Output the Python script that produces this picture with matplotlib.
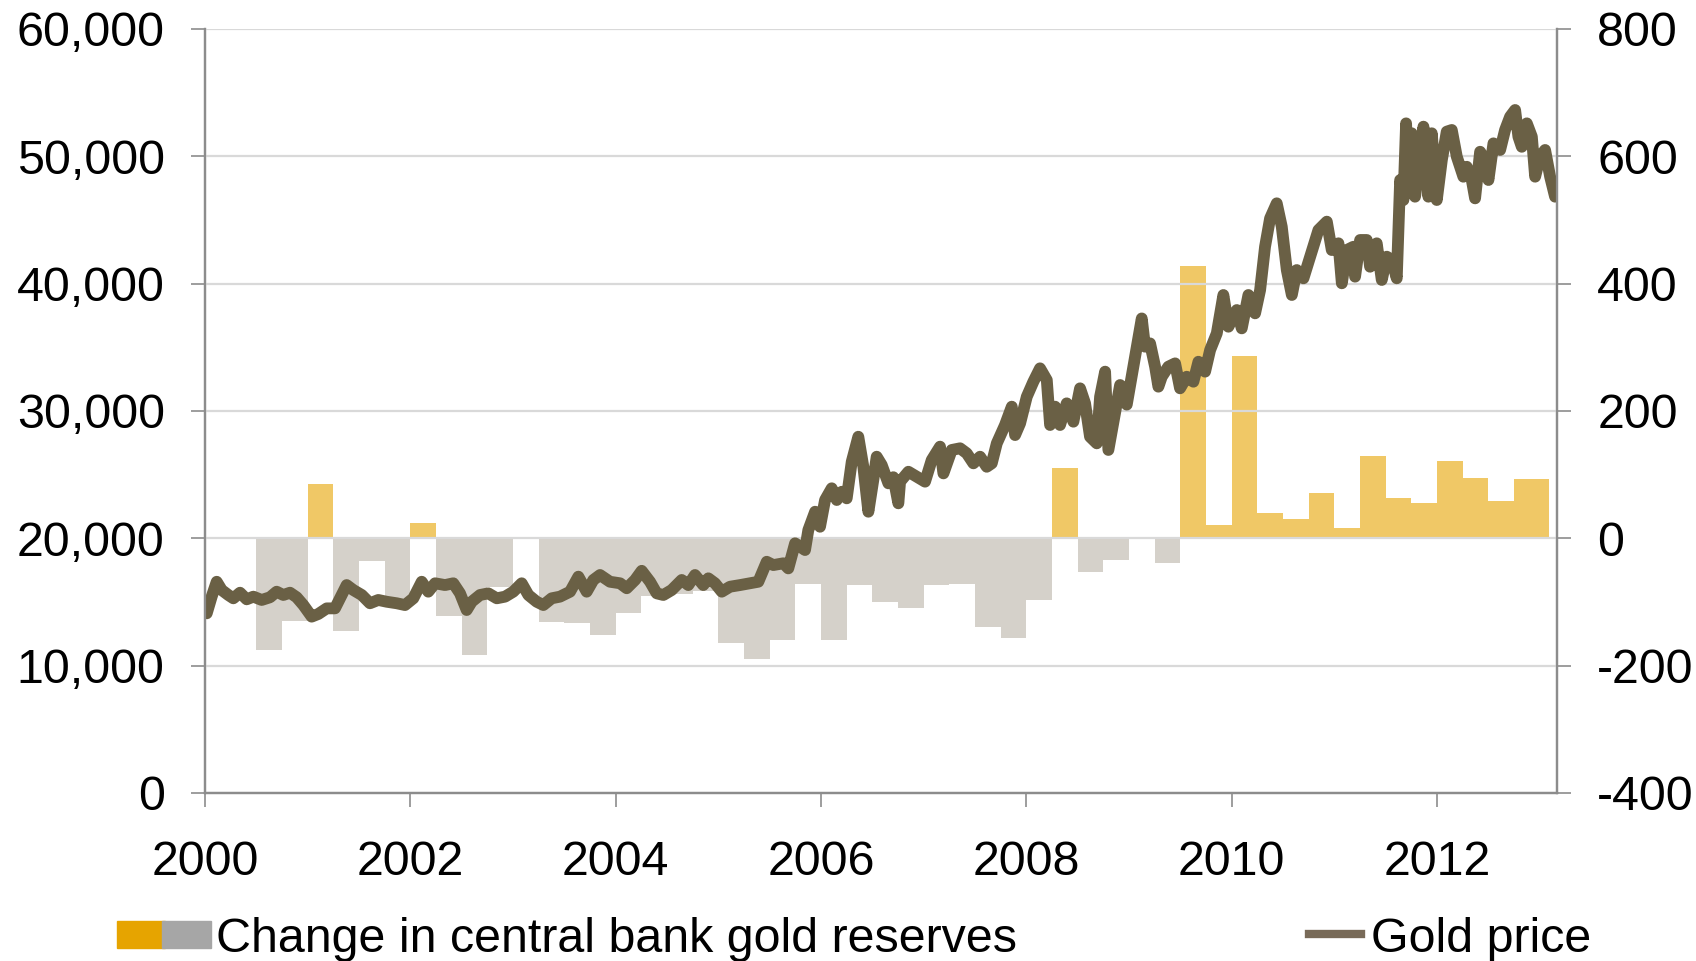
import numpy as np
import matplotlib
matplotlib.use("Agg")
import matplotlib.pyplot as plt
from matplotlib.patches import Rectangle
from matplotlib.lines import Line2D

plt.rcParams['font.family'] = ['Liberation Sans', 'DejaVu Sans']
plt.rcParams['axes.unicode_minus'] = False

# Gold price (left axis): decimal year, price
price_dates = [
    2000.017, 2000.065, 2000.114, 2000.163, 2000.227, 2000.276, 2000.341, 2000.406, 2000.471, 2000.552,
    2000.633, 2000.698, 2000.763, 2000.828, 2000.893, 2000.958, 2001.039, 2001.104, 2001.186, 2001.266,
    2001.315, 2001.380, 2001.445, 2001.527, 2001.607, 2001.688, 2001.770, 2001.868, 2001.948, 2002.029,
    2002.111, 2002.175, 2002.241, 2002.338, 2002.419, 2002.484, 2002.549, 2002.598, 2002.679, 2002.760,
    2002.842, 2002.923, 2003.003, 2003.085, 2003.150, 2003.231, 2003.296, 2003.377, 2003.458, 2003.556,
    2003.637, 2003.718, 2003.783, 2003.848, 2003.945, 2004.043, 2004.108, 2004.189, 2004.254, 2004.335,
    2004.400, 2004.465, 2004.546, 2004.644, 2004.708, 2004.773, 2004.854, 2004.903, 2004.968, 2005.034,
    2005.114, 2005.212, 2005.309, 2005.390, 2005.472, 2005.536, 2005.634, 2005.682, 2005.748, 2005.845,
    2005.877, 2005.943, 2005.991, 2006.040, 2006.105, 2006.154, 2006.203, 2006.251, 2006.300, 2006.364,
    2006.413, 2006.462, 2006.510, 2006.543, 2006.592, 2006.657, 2006.705, 2006.754, 2006.771, 2006.852,
    2006.933, 2007.014, 2007.079, 2007.160, 2007.193, 2007.274, 2007.355, 2007.420, 2007.485, 2007.550,
    2007.615, 2007.664, 2007.713, 2007.793, 2007.859, 2007.891, 2007.940, 2008.005, 2008.069, 2008.134,
    2008.200, 2008.232, 2008.281, 2008.329, 2008.394, 2008.459, 2008.524, 2008.573, 2008.621, 2008.687,
    2008.719, 2008.768, 2008.800, 2008.846, 2008.914, 2008.979, 2009.060, 2009.125, 2009.157, 2009.206,
    2009.255, 2009.287, 2009.320, 2009.384, 2009.450, 2009.498, 2009.563, 2009.628, 2009.677, 2009.742,
    2009.791, 2009.856, 2009.920, 2009.969, 2010.051, 2010.099, 2010.164, 2010.229, 2010.278, 2010.326,
    2010.375, 2010.440, 2010.489, 2010.538, 2010.587, 2010.635, 2010.700, 2010.765, 2010.846, 2010.928,
    2010.976, 2011.041, 2011.074, 2011.122, 2011.187, 2011.203, 2011.252, 2011.317, 2011.349, 2011.414,
    2011.463, 2011.512, 2011.561, 2011.609, 2011.642, 2011.674, 2011.700, 2011.722, 2011.755, 2011.787,
    2011.820, 2011.869, 2011.917, 2011.950, 2011.999, 2012.048, 2012.096, 2012.145, 2012.194, 2012.258,
    2012.291, 2012.340, 2012.372, 2012.421, 2012.470, 2012.502, 2012.551, 2012.616, 2012.664, 2012.713,
    2012.762, 2012.794, 2012.827, 2012.876, 2012.925, 2012.957, 2013.005, 2013.054, 2013.103, 2013.151,
]
gold_price = [
    14110, 15420, 16590, 15940, 15550, 15290, 15730, 15210, 15420, 15160,
    15370, 15810, 15550, 15730, 15370, 14760, 13850, 14060, 14500, 14500,
    15290, 16330, 15940, 15550, 14900, 15160, 15020, 14900, 14760, 15290,
    16590, 15810, 16470, 16330, 16470, 15680, 14370, 15020, 15550, 15680,
    15290, 15420, 15810, 16470, 15550, 15020, 14760, 15290, 15420, 15810,
    16990, 15810, 16730, 17120, 16590, 16470, 16080, 16730, 17450, 16590,
    15680, 15550, 15940, 16730, 16330, 17120, 16330, 16860, 16470, 15810,
    16200, 16330, 16470, 16590, 18160, 17900, 18040, 17640, 19610, 19080,
    20650, 22090, 20910, 23010, 23930, 23010, 23660, 23140, 26020, 27980,
    25620, 22090, 24580, 26410, 25760, 24320, 24800, 22750, 24450, 25230,
    24840, 24450, 26150, 27200, 25100, 26940, 27070, 26680, 25890, 26410,
    25620, 25890, 27460, 28900, 30340, 28110, 29030, 31120, 32300, 33350,
    32430, 28900, 30340, 28900, 30600, 29160, 31780, 30600, 27980, 27460,
    31120, 33090, 26940, 29000, 32040, 30500, 34260, 37270, 35050, 35310,
    33480, 31910, 32690, 33480, 33740, 31780, 32690, 32300, 33870, 33090,
    34790, 36100, 39110, 36620, 37930, 36490, 39110, 37670, 39500, 42900,
    45130, 46310, 44470, 41070, 39110, 41070, 40420, 42120, 44210, 44870,
    42640, 43170, 40030, 42640, 42900, 40550, 43430, 43430, 41330, 43170,
    40290, 42120, 41860, 40420, 48140, 46570, 52590, 47360, 51810, 46830,
    48660, 52330, 46830, 51810, 46570, 49700, 51940, 52070, 49970, 48400,
    49180, 48140, 46700, 50360, 49700, 48140, 51020, 50500, 52070, 53110,
    53640, 51540, 50750, 52590, 51540, 48400, 49970, 50500, 48400, 46830,
]

# Quarterly change in central bank gold reserves (right axis), from 2000 Q1
reserve_start = 2000.0
reserve_end = 2013.093
reserve_change = [
    0, 0, -176, -130, 86, -146, -36, -98, 24, -122,
    -184, -76, 0, -131, -133, -152, -117, -91, -88, -82,
    -164, -190, -160, -71, -159, -74, -100, -109, -74, -71,
    -139, -156, -97, 111, -53, -34, 0, -38, 428, 21,
    286, 40, 30, 71, 17, 129, 64, 55, 122, 95,
    59, 93,
]

year_ticks = [2000, 2002, 2004, 2006, 2008, 2010, 2012]

line_color = '#6A6045'
pos_color = '#F0C866'
neg_color = '#D5D1CA'
axis_grey = '#8C8C8C'
fs = 34.8

fig = plt.figure(figsize=(16.96, 9.61), dpi=100)
ax = fig.add_axes([205 / 1696, 1 - 793 / 961, (1557 - 205) / 1696, (793 - 29) / 961])
ax2 = ax.twinx()
ax.set_zorder(ax2.get_zorder() + 1)
ax.patch.set_visible(False)

# bars on right axis
q_start = reserve_start + 0.25 * np.arange(len(reserve_change))
widths = np.full(len(reserve_change), 0.25)
widths[-1] = reserve_end - q_start[-1]
vals = np.array(reserve_change, dtype=float)
colors = [pos_color if v > 0 else neg_color for v in vals]
ax2.bar(q_start, vals, width=widths, align='edge', color=colors, linewidth=0)
ax2.set_ylim(-400, 800)
ax2.set_yticks(range(-400, 801, 200))

# price line on left axis
ax.plot(price_dates, gold_price, color=line_color, lw=8.5,
        solid_joinstyle='round', solid_capstyle='round')
ax.set_ylim(0, 60000)
ax.set_yticks(range(0, 60001, 10000))
ax.set_yticklabels([f"{v:,}" for v in range(0, 60001, 10000)])
ax.set_xlim(2000, 2013.17)
ax.set_xticks(year_ticks)
ax.set_xticklabels([str(y) for y in year_ticks])
ax.grid(axis='y', color='#D9D9D9', lw=1.6)

for a in (ax, ax2):
    a.spines['top'].set_visible(False)
    for s in ('left', 'right', 'bottom'):
        a.spines[s].set_color(axis_grey)
        a.spines[s].set_linewidth(1.6)
    a.tick_params(colors=axis_grey, labelcolor='black', labelsize=fs,
                  length=10, width=1.2)
ax.tick_params(axis='y', pad=19)
ax2.tick_params(axis='y', pad=19)
ax.tick_params(axis='x', pad=24)

# legend drawn by hand along the bottom
W, H = 1696, 961
fig.patches.append(Rectangle((117 / W, 1 - 948 / H), 48 / W, 27 / H,
                             transform=fig.transFigure, color='#E6A400'))
fig.patches.append(Rectangle((162 / W, 1 - 948 / H), 49 / W, 27 / H,
                             transform=fig.transFigure, color='#A6A6A6'))
fig.text(216 / W, 1 - 952 / H, "Change in central bank gold reserves",
         fontsize=fs, va='baseline', ha='left')
fig.lines.append(Line2D([1309 / W, 1361 / W], [1 - 934 / H, 1 - 934 / H],
                        transform=fig.transFigure, color='#786A58', lw=6))
fig.text(1371 / W, 1 - 952 / H, "Gold price", fontsize=fs, va='baseline', ha='left')

fig.savefig("out.png", dpi=100)
